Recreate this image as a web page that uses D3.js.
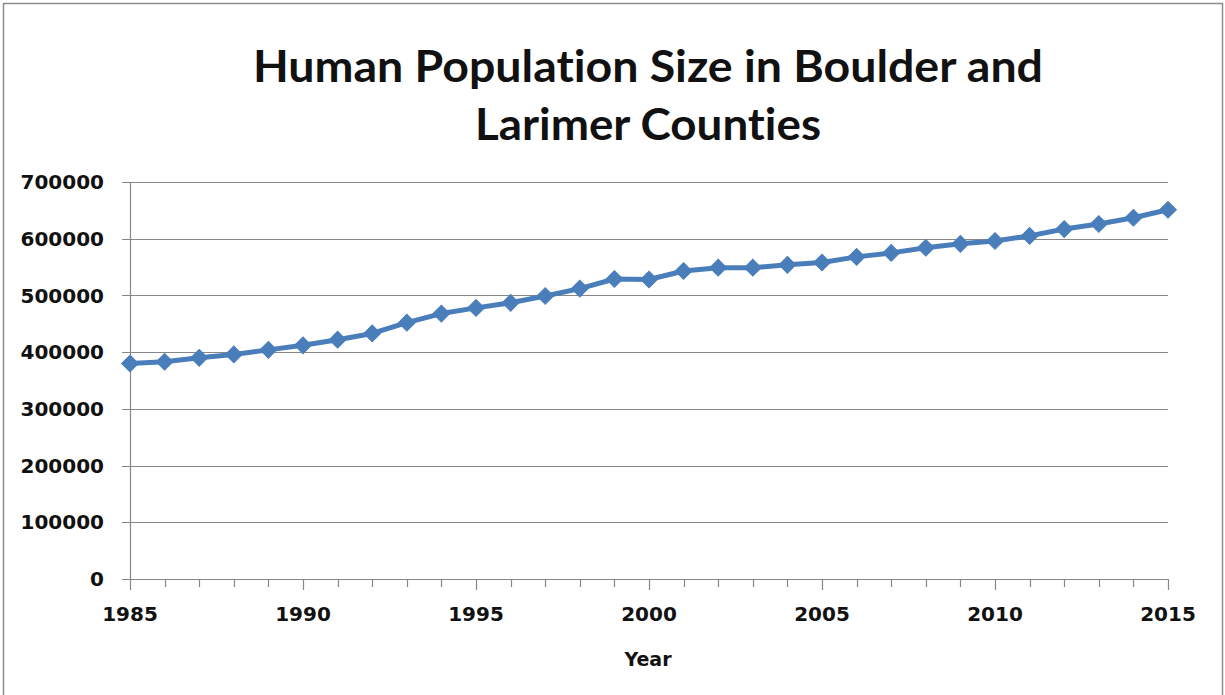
<!DOCTYPE html>
<html>
<head>
<meta charset="utf-8">
<script src="https://cdn.jsdelivr.net/npm/d3@7"></script>
<style>
  html, body { margin: 0; padding: 0; background: #fff; }
  svg { display: block; }
  text { font-variant-ligatures: none; font-feature-settings: "liga" 0, "clig" 0; }
</style>
</head>
<body>
<script>
const years = [1985,1986,1987,1988,1989,1990,1991,1992,1993,1994,1995,1996,1997,1998,1999,2000,2001,2002,2003,2004,2005,2006,2007,2008,2009,2010,2011,2012,2013,2014,2015];
const population = [380000,383000,390000,396000,404000,412000,422000,433000,452000,468000,478000,487000,499000,512000,529000,528000,543000,549000,549000,554000,558000,568000,575000,584000,591000,596000,605000,617000,626000,637000,651000];
const yTicks = [0,100000,200000,300000,400000,500000,600000,700000];
const xLabelYears = [1985,1990,1995,2000,2005,2010,2015];
const titleLines = ["Human Population Size in Boulder and", "Larimer Counties"];
const xTitle = "Year";

const W = 1225, H = 695;
const svg = d3.select("body").append("svg").attr("width", W).attr("height", H);

svg.append("rect").attr("x", 3.5).attr("y", 3.5).attr("width", W - 6).attr("height", H + 10)
  .attr("fill", "#fff").attr("stroke", "#8c8c8c").attr("stroke-width", 1.5);

const x = d3.scaleLinear().domain([1985, 2015]).range([130, 1168]);
const y = d3.scaleLinear().domain([0, 700000]).range([579, 182]);

const grid = "#878787";

// gridlines
svg.append("g").selectAll("line").data(yTicks).join("line")
  .attr("x1", 122).attr("x2", 1168)
  .attr("y1", d => Math.round(y(d)) + 0.5).attr("y2", d => Math.round(y(d)) + 0.5)
  .attr("stroke", grid).attr("stroke-width", 1);

// y axis line
svg.append("line").attr("x1", 130.5).attr("x2", 130.5).attr("y1", y(700000)).attr("y2", y(0))
  .attr("stroke", grid).attr("stroke-width", 1.2);

// x ticks
svg.append("g").selectAll("line").data(years).join("line")
  .attr("x1", d => Math.round(x(d)) + 0.5).attr("x2", d => Math.round(x(d)) + 0.5)
  .attr("y1", y(0)).attr("y2", d => y(0) + (xLabelYears.includes(d) ? 11 : 8))
  .attr("stroke", grid).attr("stroke-width", 1.2);

const tickFont = "'DejaVu Sans', Verdana, sans-serif";

// y labels
svg.append("g").selectAll("text").data(yTicks).join("text")
  .attr("x", 104).attr("y", d => y(d)).attr("dy", "0.36em")
  .attr("text-anchor", "end")
  .attr("font-family", tickFont).attr("font-weight", "bold").attr("font-size", 20)
  .attr("fill", "#111")
  .text(d => d);

// x labels
svg.append("g").selectAll("text").data(xLabelYears).join("text")
  .attr("x", d => x(d)).attr("y", 621)
  .attr("text-anchor", "middle")
  .attr("font-family", tickFont).attr("font-weight", "bold").attr("font-size", 20)
  .attr("fill", "#111")
  .text(d => d);

// x title
svg.append("text").attr("x", 648).attr("y", 666).attr("text-anchor", "middle")
  .attr("font-family", tickFont).attr("font-weight", "bold").attr("font-size", 19)
  .attr("fill", "#111").text(xTitle);

// title
const titleSpecs = [{y: 82, w: 790}, {y: 140, w: 346}];
titleLines.forEach((t, i) => {
  const el = svg.append("text").attr("x", 648).attr("y", titleSpecs[i].y)
    .attr("text-anchor", "middle")
    .attr("font-family", "Lato, 'Open Sans', sans-serif").attr("font-weight", "bold")
    .attr("font-size", 44).attr("fill", "#111").text(t);
  el.attr("textLength", titleSpecs[i].w).attr("lengthAdjust", "spacingAndGlyphs");
});

const data = years.map((yr, i) => ({yr, v: population[i]}));
const blue = "#4a7ebb";

svg.append("path").datum(data)
  .attr("d", d3.line().x(d => x(d.yr)).y(d => y(d.v)))
  .attr("fill", "none").attr("stroke", blue).attr("stroke-width", 5).attr("stroke-linejoin", "round");

svg.append("g").selectAll("path").data(data).join("path")
  .attr("d", d3.symbol().type(d3.symbolSquare).size(140))
  .attr("transform", d => `translate(${x(d.yr)},${y(d.v)}) rotate(45)`)
  .attr("fill", blue).attr("stroke", blue).attr("stroke-width", 1);
</script>
</body>
</html>
